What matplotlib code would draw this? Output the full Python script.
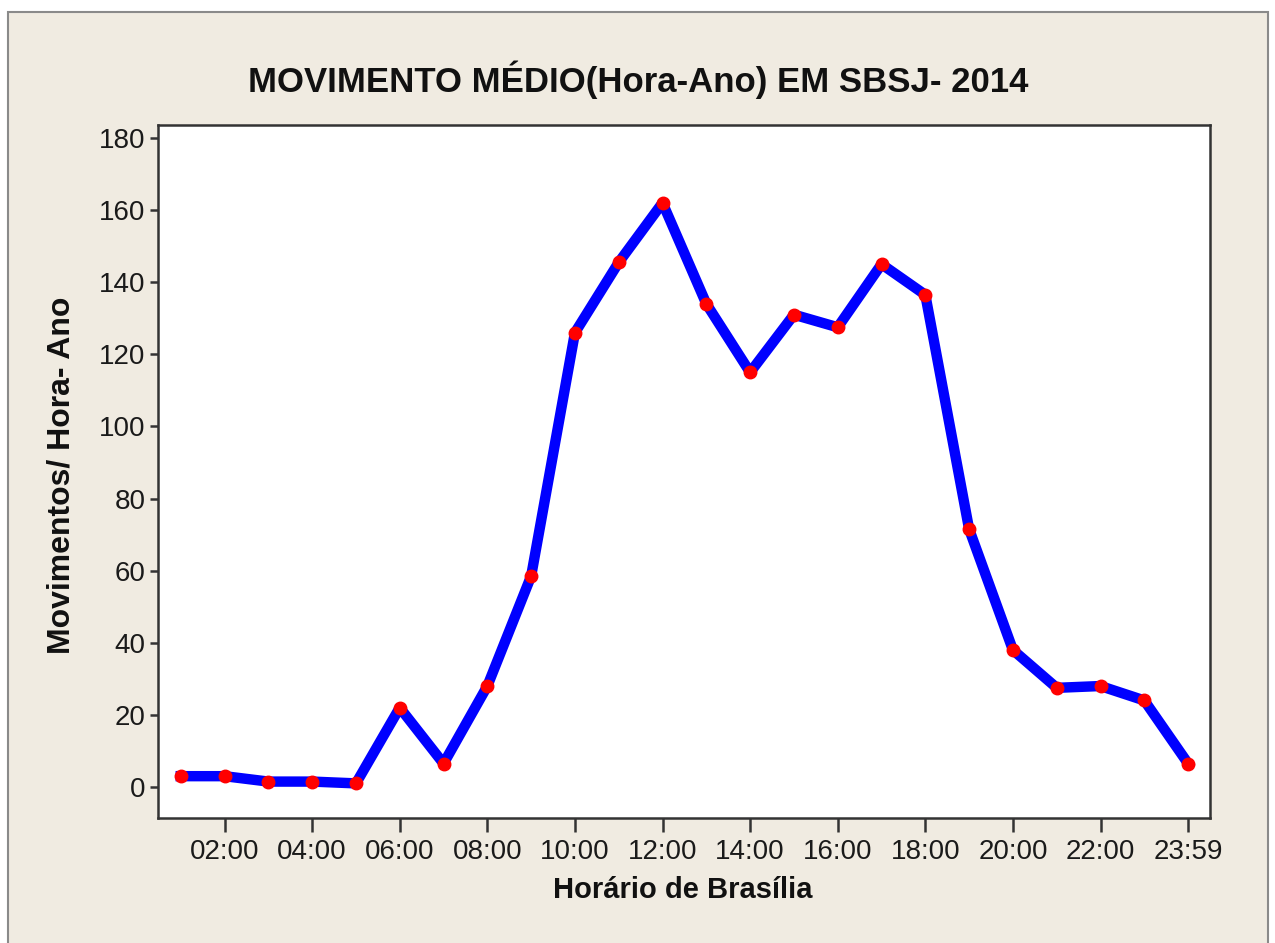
import numpy as np
import matplotlib.pyplot as plt
from matplotlib.patches import Rectangle

hours = list(range(1, 25))
movimentos = [3, 3, 1.5, 1.5, 1, 22, 6.5, 28, 58.5, 126, 145.5, 162,
              134, 115, 131, 127.5, 145, 136.5, 71.5, 38, 27.5, 28, 24, 6.5]
tick_pos = [2, 4, 6, 8, 10, 12, 14, 16, 18, 20, 22, 24]
tick_labels = ["02:00", "04:00", "06:00", "08:00", "10:00", "12:00",
               "14:00", "16:00", "18:00", "20:00", "22:00", "23:59"]
yticks = [0, 20, 40, 60, 80, 100, 120, 140, 160, 180]

plt.rcParams["font.family"] = ["Liberation Sans", "DejaVu Sans"]
bg = "#f0ebe1"
W, H = 1275, 943

fig = plt.figure(figsize=(W / 100, H / 100), dpi=100, facecolor="white")
fig.patches.append(Rectangle((8 / W, -0.01), 1260 / W, 1.01 - 12 / H, transform=fig.transFigure,
                             facecolor=bg, edgecolor="#8a8a8a", linewidth=1.5, zorder=-1))

ax = fig.add_axes([158 / W, 1 - 818 / H, 1052 / W, 693 / H])
ax.set_facecolor("white")
ax.plot(hours, movimentos, color="#0000ff", linewidth=7.5, solid_joinstyle="round",
        marker="o", markersize=9, markerfacecolor="#ff0000", markeredgecolor="#ff0000")

ax.set_xlim(0.48, 24.5)
ax.set_ylim(-8.6, 183.6)
ax.set_xticks(tick_pos)
ax.set_xticklabels(tick_labels)
ax.set_yticks(yticks)
ax.tick_params(axis="x", direction="out", length=10, width=1.8, color="#333333",
               labelsize=20, pad=5, labelcolor="#1a1a1a")
ax.tick_params(axis="y", direction="out", length=6, width=1.8, color="#333333",
               labelsize=20, pad=3, labelcolor="#1a1a1a")
for s in ax.spines.values():
    s.set_color("#333333")
    s.set_linewidth(1.8)

fig.text(638 / W, 1 - 80 / H, "MOVIMENTO MÉDIO(Hora-Ano) EM SBSJ- 2014",
         ha="center", va="center", fontsize=25, fontweight="bold", color="#111111")
fig.text(683 / W, 1 - 890 / H, "Horário de Brasília", ha="center", va="center",
         fontsize=21, fontweight="bold", color="#111111")
fig.text(62 / W, 1 - 475 / H, "Movimentos/ Hora- Ano", ha="center", va="center",
         rotation=90, fontsize=23, fontweight="bold", color="#111111")

fig.savefig("out.png", dpi=100, facecolor=fig.get_facecolor())
